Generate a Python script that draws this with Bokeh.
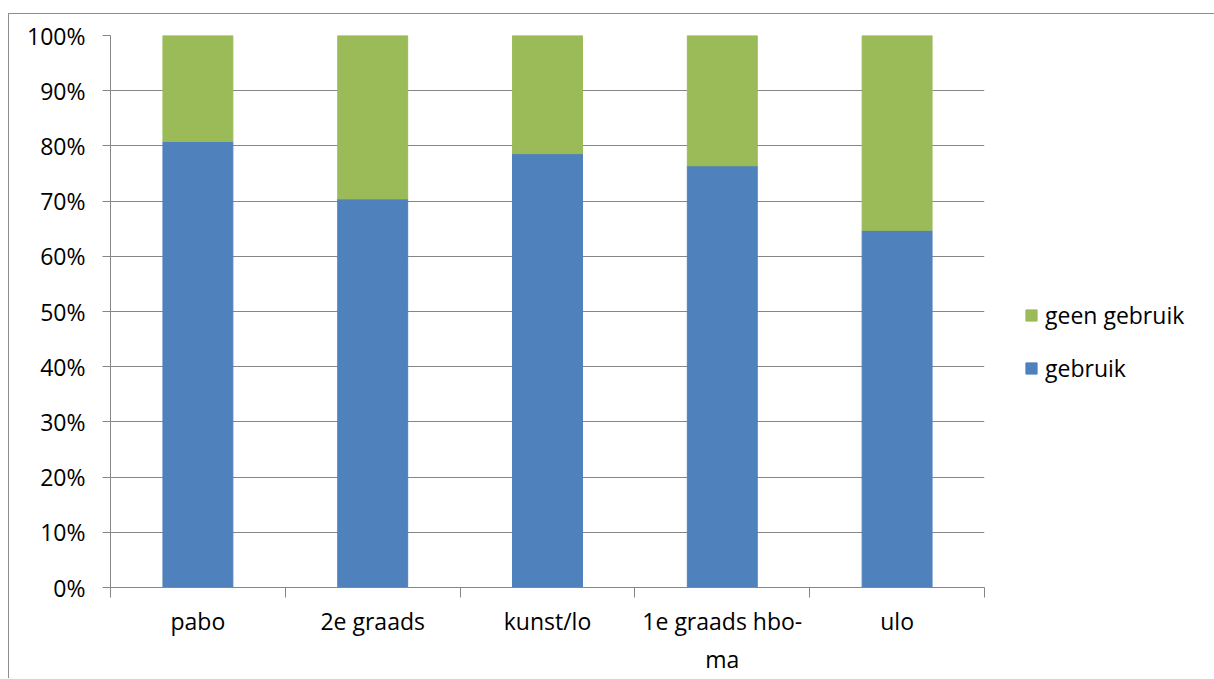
from bokeh.plotting import figure
from bokeh.layouts import column, row
from bokeh.models import (FixedTicker, PrintfTickFormatter, Legend, LegendItem,
                          Range1d, ColumnDataSource, Spacer)
from bokeh.embed import file_html
from bokeh.resources import INLINE

categories = ["pabo", "2e graads", "kunst/lo", "1e graads hbo-\nma", "ulo"]
gebruik = [80.8, 70.4, 78.6, 76.4, 64.7]
geen_gebruik = [19.2, 29.6, 21.4, 23.6, 35.3]
y_ticks = [0, 10, 20, 30, 40, 50, 60, 70, 80, 90, 100]

BLUE = "#4F81BD"
GREEN = "#9BBB59"
GRID = "#868686"
FONT = "Open Sans"
FS = "23px"

xs = [i + 0.5 for i in range(len(categories))]
src = ColumnDataSource(dict(x=xs, gebruik=gebruik, geen=geen_gebruik))

p = figure(frame_width=872, frame_height=551, x_range=Range1d(0, len(categories)),
           y_range=Range1d(0, 100), output_backend="svg", toolbar_location=None,
           min_border_left=101, min_border_right=229, min_border_top=21,
           min_border_bottom=92)
p.styles = {"border-top": "1px solid #8c8c8c", "border-left": "1px solid #8c8c8c",
            "border-right": "1px solid #8c8c8c"}
p.outline_line_color = None
p.background_fill_color = "white"

rs = p.vbar_stack(["gebruik", "geen"], x="x", width=0.4, color=[BLUE, GREEN],
                  source=src)

# y axis
p.yaxis.ticker = FixedTicker(ticks=y_ticks)
p.yaxis.formatter = PrintfTickFormatter(format="%d%%")
p.yaxis.axis_line_color = GRID
p.yaxis.major_tick_line_color = GRID
p.yaxis.major_tick_out = 8
p.yaxis.major_tick_in = 0
p.yaxis.minor_tick_line_color = None
p.yaxis.major_label_standoff = 17
p.yaxis.major_label_text_font = FONT
p.yaxis.major_label_text_font_size = FS
p.yaxis.major_label_text_color = "black"

p.ygrid.ticker = FixedTicker(ticks=y_ticks)
p.ygrid.grid_line_color = GRID
p.ygrid.grid_line_width = 1
p.xgrid.grid_line_color = None

# x axis
p.xaxis.ticker = FixedTicker(ticks=xs, minor_ticks=list(range(len(categories) + 1)))
p.xaxis.major_label_overrides = {x: c for x, c in zip(xs, categories)}
p.xaxis.axis_line_color = GRID
p.xaxis.major_tick_line_color = None
p.xaxis.major_tick_out = 0
p.xaxis.major_tick_in = 0
p.xaxis.minor_tick_line_color = GRID
p.xaxis.minor_tick_out = 10
p.xaxis.minor_tick_in = 0
p.xaxis.major_label_standoff = 7
p.xaxis.major_label_text_font = FONT
p.xaxis.major_label_text_font_size = FS
p.xaxis.major_label_text_color = "black"

legend = Legend(items=[LegendItem(label="geen gebruik", renderers=[rs[1]]),
                       LegendItem(label="gebruik", renderers=[rs[0]])],
                location=(40, 203), orientation="vertical")
legend.label_text_font = FONT
legend.label_text_font_size = FS
legend.label_text_color = "black"
legend.glyph_width = 14
legend.glyph_height = 14
legend.label_height = 28
legend.spacing = 21
legend.label_standoff = 7
legend.padding = 4
legend.margin = 0
legend.border_line_color = None
legend.background_fill_alpha = 0
p.add_layout(legend, "right")

layout = row(Spacer(width=8), column(Spacer(height=13), p))
open("out.html", "w").write(file_html(layout, INLINE))
